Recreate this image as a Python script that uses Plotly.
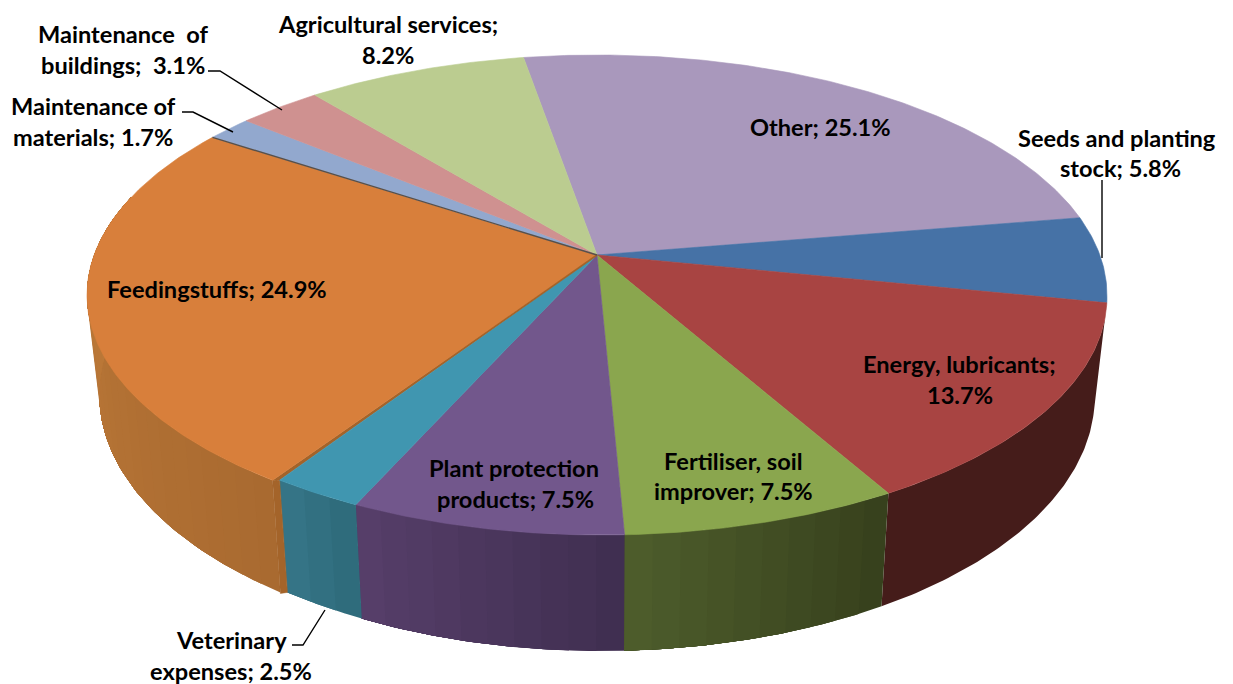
import numpy as np
import plotly.graph_objects as go

categories = ["Other", "Seeds and planting stock", "Energy, lubricants", "Fertiliser, soil improver",
              "Plant protection products", "Veterinary expenses", "Feedingstuffs",
              "Maintenance of materials", "Maintenance of buildings", "Agricultural services"]
values = [25.1, 5.8, 13.7, 7.5, 7.5, 2.5, 24.9, 1.7, 3.1, 8.2]
label_lines = [["Other; 25.1%"], ["Seeds and planting", "stock; 5.8%"], ["Energy, lubricants;", "13.7%"],
               ["Fertiliser, soil", "improver; 7.5%"], ["Plant protection", "products; 7.5%"],
               ["Veterinary", "expenses; 2.5%"], ["Feedingstuffs; 24.9%"],
               ["Maintenance of", "materials; 1.7%"], ["Maintenance  of", "buildings;  3.1%"],
               ["Agricultural services;", "8.2%"]]

top_colors = ["#A998BC", "#4672A6", "#A84442", "#8AA64E", "#72578C", "#4096B0", "#D87F3B", "#92A8CE", "#CF9190", "#BBCC90"]
side_colors = [None, None, ("#451C1A", "#451C1A"), ("#36401C", "#4E5D2C"), ("#3F2E50", "#573F6A"),
               ("#2D6A7A", "#377688"), ("#A96A30", "#C07C3A"), None, None, None]
label_pos = [[(820, 127)], [(1117, 138), (1120, 168)], [(959, 364), (960, 395)], [(733, 461), (733, 491)],
             [(514, 468), (515, 499)], [(231, 640), (231, 671)], [(217, 289)], [(93, 106), (93, 137)],
             [(123, 34), (123, 65)], [(388, 24), (388, 55)]]
leaders = [[(208, 71), (220, 71), (282, 110)], [(182, 112), (193, 112), (233, 132)],
           [(292, 645), (303, 645), (325, 610)], [(1102, 180), (1102, 258)]]

CX, CY, F, G, D, H, SHRINK = 597, 255, 3017, 1400, 6, 580, 0.976
START = -9.8


def shift(t, feed=False):
    return 0 * t if feed else np.interp(t, [100, 150, 180, 205, 214], [0, 4, 4, 7, 7], right=0)


def top_xy(t, feed=False):
    r = np.radians(t)
    den = D + np.cos(r)
    return CX + F * np.sin(r) / den + shift(t, feed), CY - G * np.cos(r) / den


def bottom_xy(t, feed=False):
    r = np.radians(t)
    den = D + np.cos(r)
    return CX + SHRINK * F * np.sin(r) / den + shift(t, feed), CY + (H - G * np.cos(r)) / den


def mix(a, b, k):
    pa = [int(a[i:i + 2], 16) for i in (1, 3, 5)]
    pb = [int(b[i:i + 2], 16) for i in (1, 3, 5)]
    return "rgb(%d,%d,%d)" % tuple(round(p + (q - p) * k) for p, q in zip(pa, pb))


def poly(fig, xs, ys, color, lw=0.0):
    fig.add_trace(go.Scatter(x=list(xs), y=list(ys), mode="lines", fill="toself", fillcolor=color,
                             line=dict(color=color, width=lw), hoverinfo="skip", showlegend=False))


edges = START + np.cumsum([0] + values) * 3.6
fig = go.Figure()

# side walls: each strip runs to the slice's far end, so later strips paint over it without seams
for i, cols in enumerate(side_colors):
    if cols is None:
        continue
    feed = categories[i] == "Feedingstuffs"
    a0, a1 = edges[i], min(edges[i + 1], 285)
    n = 1 if cols[0] == cols[1] else max(2, int((a1 - a0) / 2.5))
    ts = np.linspace(a0, a1, n + 1)
    arc = np.linspace(a0, a1, 80)
    for j in range(n):
        part = arc[arc >= ts[j]]
        xa, ya = top_xy(np.r_[ts[j], part], feed)
        xb, yb = bottom_xy(np.r_[ts[j], part], feed)
        poly(fig, np.r_[xa, xb[::-1], xa[0]], np.r_[ya, yb[::-1], ya[0]], mix(cols[0], cols[1], (j + 0.5) / n))

# cut wall of the feedingstuffs slice
t = edges[6]
tx_f, ty_f = top_xy(t, True)
tx_v, ty_v = top_xy(t, False)
bx_f, by_f = bottom_xy(t, True)
bx_v, by_v = bottom_xy(t, False)
wall = "#A4642A"
poly(fig, [tx_f, tx_v, bx_v, bx_f, tx_f], [ty_f, ty_v, by_v, by_f + 1, ty_f], wall, 0.5)
poly(fig, [CX, tx_f, tx_v, CX], [CY, ty_f, ty_v, CY], wall, 0.5)

# top faces
for i, col in enumerate(top_colors):
    feed = categories[i] == "Feedingstuffs"
    ts = np.linspace(edges[i], edges[i + 1], max(3, int(values[i] * 6)))
    ax, ay = top_xy(ts, feed)
    poly(fig, np.r_[CX, ax, CX], np.r_[CY, ay, CY], col, 0.6)

# dark seams on the feedingstuffs slice
x_v, y_v = top_xy(edges[6], True)
fig.add_trace(go.Scatter(x=[CX, x_v + 3], y=[CY, y_v + 0.5], mode="lines", line=dict(color=wall, width=1.6),
                         hoverinfo="skip", showlegend=False))
x_m, y_m = top_xy(edges[7], True)
fig.add_trace(go.Scatter(x=[CX, x_m], y=[CY, y_m], mode="lines", line=dict(color="#5A5048", width=1.4),
                         hoverinfo="skip", showlegend=False))

# leader lines
for pts in leaders:
    fig.add_trace(go.Scatter(x=[p[0] for p in pts], y=[p[1] for p in pts], mode="lines",
                             line=dict(color="#000000", width=1.4), hoverinfo="skip", showlegend=False))

annotations = []
for lines, positions in zip(label_lines, label_pos):
    for text, (x, y) in zip(lines, positions):
        annotations.append(dict(x=x, y=y, text=text, showarrow=False, xref="x", yref="y",
                                xanchor="center", yanchor="middle",
                                font=dict(family="Lato", size=23.6, color="#000000", weight="bold")))

fig.update_layout(width=1233, height=684, margin=dict(l=0, r=0, t=0, b=0), paper_bgcolor="white",
                  plot_bgcolor="white", showlegend=False, annotations=annotations,
                  xaxis=dict(range=[0, 1233], visible=False, fixedrange=True),
                  yaxis=dict(range=[684, 0], visible=False, fixedrange=True))
fig.write_html("out.html", config={"displayModeBar": False},
               post_script="document.body.style.margin='0';")
